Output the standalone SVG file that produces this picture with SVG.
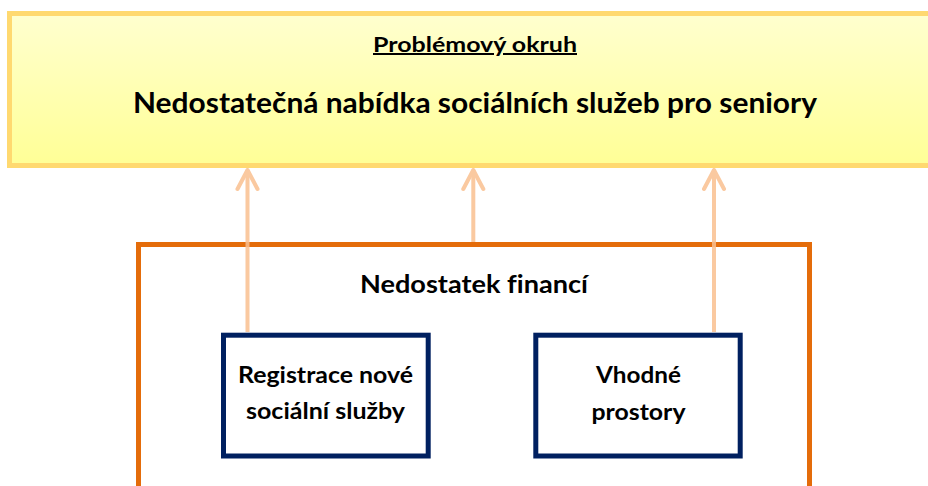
<svg xmlns="http://www.w3.org/2000/svg" width="928" height="486" viewBox="0 0 928 486">
<defs>
<linearGradient id="yg" x1="0" y1="0" x2="0" y2="1">
<stop offset="0" stop-color="#FFFFCF"/>
<stop offset="1" stop-color="#FFFF96"/>
</linearGradient>
<marker id="ahu" markerUnits="userSpaceOnUse" markerWidth="30" markerHeight="30" refX="26" refY="15" orient="auto" viewBox="0 0 30 30">
<path d="M7 5 L26 15 L7 25" fill="none" stroke="#FAC090" stroke-width="4" stroke-linecap="round" stroke-linejoin="round"/>
</marker>
</defs>
<style>
.t{font-family:Lato,"Open Sans","Liberation Sans",sans-serif;font-weight:bold;fill:#000;text-anchor:middle;font-variant-ligatures:none}
.blue{fill:#fff;stroke:#002060;stroke-width:5}
.con{fill:none;stroke:#FAC090;stroke-width:4;opacity:0.85}
</style>
<g id="problem">
<rect x="9.5" y="13.5" width="930" height="152" fill="url(#yg)" stroke="#FFD970" stroke-width="5"/>
<text class="t" x="475" y="52" font-size="20" text-decoration="underline" textLength="204" lengthAdjust="spacingAndGlyphs">Problémový okruh</text>
<text class="t" x="475" y="113" font-size="28" textLength="684" lengthAdjust="spacingAndGlyphs">Nedostatečná nabídka sociálních služeb pro seniory</text>
</g>
<g id="finance">
<path d="M138.5 490 V244.5 H809.5 V490" fill="none" stroke="#E46C0A" stroke-width="5"/>
<text class="t" x="474" y="293" font-size="24" textLength="228" lengthAdjust="spacingAndGlyphs">Nedostatek financí</text>
</g>
<g id="registrace">
<rect class="blue" x="223.5" y="335.2" width="204.7" height="120.8"/>
<text class="t" x="325.5" y="382.7" font-size="22" textLength="175" lengthAdjust="spacingAndGlyphs">Registrace nové</text>
<text class="t" x="325.5" y="419.3" font-size="22" textLength="159" lengthAdjust="spacingAndGlyphs">sociální služby</text>
</g>
<g id="prostory">
<rect class="blue" x="535.8" y="335.2" width="204.4" height="120.8"/>
<text class="t" x="638.5" y="382.7" font-size="22" textLength="85" lengthAdjust="spacingAndGlyphs">Vhodné</text>
<text class="t" x="638.5" y="419.5" font-size="22" textLength="94" lengthAdjust="spacingAndGlyphs">prostory</text>
</g>
<g id="connectors">
<path class="con" d="M247.5 332 V170" marker-end="url(#ahu)"/>
<path class="con" d="M473.3 242 V170" marker-end="url(#ahu)"/>
<path class="con" d="M714 332 V170" marker-end="url(#ahu)"/>
</g>
</svg>
